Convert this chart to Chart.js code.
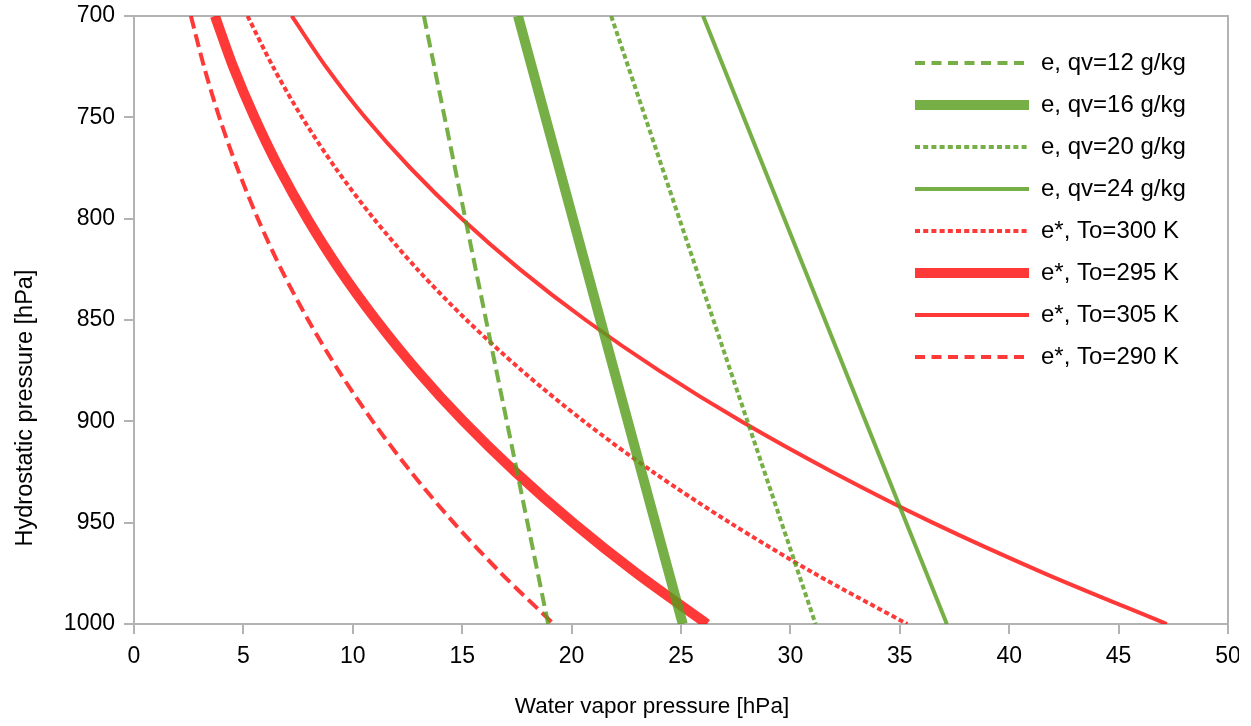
<!DOCTYPE html>
<html><head><meta charset="utf-8">
<script src="https://cdn.jsdelivr.net/npm/chart.js@4/dist/chart.umd.min.js"></script>
<style>
html,body{margin:0;padding:0;background:#fff;}
#wrap{width:1239px;height:726px;overflow:hidden;}
canvas{display:block;}
</style>
</head><body>
<div id="wrap"><canvas id="c" width="1251" height="726"></canvas></div>
<script>
// Hydrostatic pressure levels (hPa)
const pressures = [700, 725, 750, 775, 800, 825, 850, 875, 900, 925, 950, 975, 1000];
// Saturation vapor pressure e* (hPa) along each curve
const eSat300 = [5.19, 6.35, 7.68, 9.21, 10.96, 12.95, 15.20, 17.73, 20.56, 23.72, 27.23, 31.09, 35.34];
const eSat295 = [3.70, 4.53, 5.51, 6.63, 7.92, 9.39, 11.07, 12.95, 15.06, 17.43, 20.06, 22.97, 26.19];
const eSat305 = [7.21, 8.77, 10.56, 12.63, 14.98, 17.64, 20.64, 24.00, 27.75, 31.92, 36.50, 41.61, 47.20];
const eSat290 = [2.60, 3.20, 3.90, 4.72, 5.66, 6.73, 7.96, 9.35, 10.91, 12.66, 14.61, 16.78, 19.18];
// Vapor pressure e (hPa) for fixed mixing ratios, at the end levels
const pressureEnds = [700, 1000];
const eQv12 = [13.25, 18.93];
const eQv16 = [17.55, 25.08];
const eQv20 = [21.81, 31.15];
const eQv24 = [26.01, 37.15];
// Series labels and axis titles
const seriesLabels = ['e, qv=12 g/kg', 'e, qv=16 g/kg', 'e, qv=20 g/kg', 'e, qv=24 g/kg',
                      'e*, To=300 K', 'e*, To=295 K', 'e*, To=305 K', 'e*, To=290 K'];
const xTitle = 'Water vapor pressure [hPa]';
const yTitle = 'Hydrostatic pressure [hPa]';

const GREEN = 'rgba(87,157,28,0.82)';
const RED = 'rgba(255,0,0,0.78)';
const GRAY = '#b3b3b3';
const FAMILY = '"Liberation Sans", Arial, sans-serif';
const DASH = [13, 6], DOT = [5, 3];
const LEG_DASH = [10, 6.5], LEG_DOT = [5, 3.2];

const pts = (ys, xs) => xs.map((x, i) => ({x: x, y: ys[i]}));

const datasets = [
  {label: seriesLabels[0], data: pts(pressureEnds, eQv12), borderColor: GREEN, borderWidth: 4, borderDash: DASH, legendDash: LEG_DASH},
  {label: seriesLabels[1], data: pts(pressureEnds, eQv16), borderColor: GREEN, borderWidth: 10},
  {label: seriesLabels[2], data: pts(pressureEnds, eQv20), borderColor: GREEN, borderWidth: 4, borderDash: DOT, legendDash: LEG_DOT},
  {label: seriesLabels[3], data: pts(pressureEnds, eQv24), borderColor: GREEN, borderWidth: 4},
  {label: seriesLabels[4], data: pts(pressures, eSat300), borderColor: RED, borderWidth: 4, borderDash: DOT, legendDash: LEG_DOT, tension: 0.3},
  {label: seriesLabels[5], data: pts(pressures, eSat295), borderColor: RED, borderWidth: 10, tension: 0.3},
  {label: seriesLabels[6], data: pts(pressures, eSat305), borderColor: RED, borderWidth: 4, tension: 0.3},
  {label: seriesLabels[7], data: pts(pressures, eSat290), borderColor: RED, borderWidth: 4, borderDash: DASH, legendDash: LEG_DASH, tension: 0.3}
].map(d => Object.assign({pointRadius: 0, pointHoverRadius: 0, pointStyle: 'line', fill: false,
                          backgroundColor: d.borderColor, tension: 0, borderCapStyle: 'butt'}, d));

const legendPlace = {
  id: 'legendPlace',
  afterLayout(chart) {
    if (chart.legend) { chart.legend.left = 897; chart.legend.top = 33; }
  }
};

const axisTitles = {
  id: 'axisTitles',
  afterDraw(chart) {
    const ctx = chart.ctx;
    ctx.save();
    ctx.fillStyle = '#000';
    ctx.textAlign = 'center';
    ctx.textBaseline = 'alphabetic';
    ctx.font = '22.5px ' + FAMILY;
    ctx.fillText(xTitle, 652, 713);
    ctx.translate(32, 408);
    ctx.rotate(-Math.PI / 2);
    ctx.font = '23.5px ' + FAMILY;
    ctx.fillText(yTitle, 0, 0);
    ctx.restore();
  }
};

const gridOpts = {drawOnChartArea: false, drawTicks: true, tickLength: 10, color: GRAY, lineWidth: 2};
const borderOpts = {display: true, color: GRAY, width: 2};

new Chart(document.getElementById('c'), {
  type: 'line',
  data: {datasets: datasets},
  plugins: [legendPlace, axisTitles],
  options: {
    responsive: false, animation: false, devicePixelRatio: 1,
    layout: {padding: 0},
    events: [],
    scales: {
      x: {type: 'linear', position: 'bottom', min: 0, max: 50,
          ticks: {stepSize: 5, font: {family: FAMILY, size: 23, lineHeight: 1.96}, color: '#000', padding: 0,
                  maxRotation: 0, autoSkip: false, callback: v => String(v)},
          grid: gridOpts, border: borderOpts,
          title: {display: false, text: xTitle},
          afterFit: s => { s.height = 102; }},
      y: {type: 'linear', position: 'left', reverse: true, min: 700, max: 1000,
          ticks: {stepSize: 50, font: {family: FAMILY, size: 23, lineHeight: 0.5}, color: '#000', padding: 9,
                  autoSkip: false, callback: v => String(v)},
          grid: gridOpts, border: borderOpts,
          title: {display: false, text: yTitle},
          afterFit: s => { s.width = 134; }},
      x2: {type: 'linear', position: 'top', display: true, min: 0, max: 50,
           ticks: {display: false}, grid: {drawOnChartArea: false, drawTicks: false}, border: borderOpts,
           afterFit: s => { s.height = 16; }},
      y2: {type: 'linear', position: 'right', display: true, min: 700, max: 1000, reverse: true,
           ticks: {display: false}, grid: {drawOnChartArea: false, drawTicks: false}, border: borderOpts,
           afterFit: s => { s.width = 23; }}
    },
    plugins: {
      legend: {position: 'chartArea', align: 'start',
               labels: {usePointStyle: true, pointStyleWidth: 114, boxHeight: 24, padding: 18,
                        font: {family: FAMILY, size: 24}, color: '#000',
                        generateLabels(chart) {
                          const items = Chart.defaults.plugins.legend.labels.generateLabels(chart);
                          items.forEach(it => {
                            const ds = chart.data.datasets[it.datasetIndex];
                            it.lineDash = ds.legendDash || [];
                            it.lineWidth = ds.borderWidth;
                            it.strokeStyle = ds.borderColor;
                          });
                          return items;
                        }}},
      tooltip: {enabled: false}
    }
  }
});
</script>
</body></html>
